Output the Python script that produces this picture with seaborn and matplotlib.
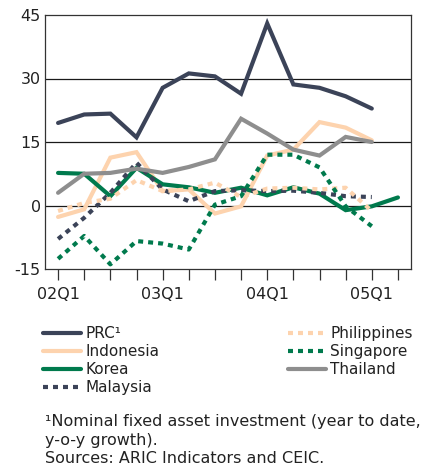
import matplotlib
matplotlib.use("Agg")
import matplotlib.pyplot as plt
import seaborn as sns
import pandas as pd
from matplotlib.lines import Line2D

quarters = ["02Q1", "02Q2", "02Q3", "02Q4", "03Q1", "03Q2", "03Q3", "03Q4",
            "04Q1", "04Q2", "04Q3", "04Q4", "05Q1", "05Q2"]
tick_labels = ["02Q1", "03Q1", "04Q1", "05Q1"]

prc = [19.5, 21.5, 21.7, 16.1, 27.8, 31.2, 30.5, 26.4, 43.0, 28.6, 27.8, 25.8, 22.9]
indonesia = [-2.7, -0.9, 11.3, 12.6, 3.4, 3.8, -1.9, -0.2, 11.8, 13.2, 19.7, 18.4, 15.4]
korea = [7.7, 7.5, 2.2, 8.9, 5.0, 4.3, 3.0, 4.2, 2.4, 4.3, 2.8, -1.1, -0.2, 1.9]
malaysia = [-7.9, -2.9, 3.0, 10.1, 3.8, 1.0, 3.4, 3.6, 3.4, 3.5, 3.0, 2.2, 2.0]
philippines = [-1.3, 0.6, 1.6, 6.0, 3.4, 3.8, 5.4, 2.0, 4.0, 4.2, 3.8, 4.2, -1.3]
singapore = [-12.6, -7.2, -13.9, -8.4, -9.0, -10.4, 0.2, 2.2, 12.0, 12.0, 9.0, -0.2, -4.9]
thailand = [3.0, 7.5, 7.7, 8.7, 7.7, 9.1, 10.9, 20.5, 17.0, 13.2, 11.8, 16.2, 15.0]

DOT = (0, (1.2, 1.2))
series = [
    ("PRC¹", prc, "#3b4358", "-"),
    ("Indonesia", indonesia, "#fdd3ae", "-"),
    ("Korea", korea, "#007a4d", "-"),
    ("Malaysia", malaysia, "#3b4358", DOT),
    ("Philippines", philippines, "#fdd3ae", DOT),
    ("Singapore", singapore, "#007a4d", DOT),
    ("Thailand", thailand, "#8e8e8e", "-"),
]

sns.set_style("white")
plt.rcParams["font.family"] = ["DejaVu Sans"]

fig = plt.figure(figsize=(4.25, 4.7), dpi=100)
ax = fig.add_axes([45 / 425, 1 - 269 / 470, 366 / 425, 254 / 470])

handles = []
for name, vals, color, ls in series:
    df = pd.DataFrame({"q": range(len(vals)), "v": vals})
    sns.lineplot(data=df, x="q", y="v", ax=ax, color=color, linewidth=3.0,
                 linestyle=ls, legend=False)
    ln = ax.lines[-1]
    ln.set_linestyle(ls)
    ln.set_solid_joinstyle("miter")
    handles.append(Line2D([0], [0], color=color, linewidth=3.0, linestyle=ls, label=name))

for yv in [0, 15, 30]:
    ax.axhline(yv, color="#1a1a1a", linewidth=0.9, zorder=0.5)

ax.set_xlim(-0.5, 13.5)
ax.set_ylim(-15, 45)
ax.set_yticks([-15, 0, 15, 30, 45])
ax.set_yticklabels(["-15", "0", "15", "30", "45"])
ax.set_xticks(range(len(quarters)))
ax.set_xticklabels([q if q in tick_labels else "" for q in quarters])
ax.set_xlabel("")
ax.set_ylabel("")
ax.tick_params(axis="x", direction="out", length=8, width=0.9, color="#333333",
               labelsize=11.5, pad=5, labelcolor="#222222", bottom=True)
ax.tick_params(axis="y", length=0, labelsize=11.5, pad=3, labelcolor="#222222")
for s in ax.spines.values():
    s.set_color("#333333")
    s.set_linewidth(0.9)

legkw = dict(loc="upper left", frameon=False, fontsize=11, handlelength=2.5,
             handletextpad=0.25, labelspacing=0.2, borderaxespad=0, borderpad=0)
leg1 = fig.legend(handles=handles[:4], bbox_to_anchor=(43 / 425, 1 - 326 / 470), **legkw)
leg2 = fig.legend(handles=handles[4:], bbox_to_anchor=(288 / 425, 1 - 326 / 470), **legkw)
for leg in (leg1, leg2):
    for t in leg.get_texts():
        t.set_color("#222222")

fig.text(45 / 425, 1 - 414 / 470,
         "¹Nominal fixed asset investment (year to date,\ny-o-y growth).\nSources: ARIC Indicators and CEIC.",
         ha="left", va="top", fontsize=11.5, color="#222222", linespacing=1.3)

fig.savefig("out.png", dpi=100)
